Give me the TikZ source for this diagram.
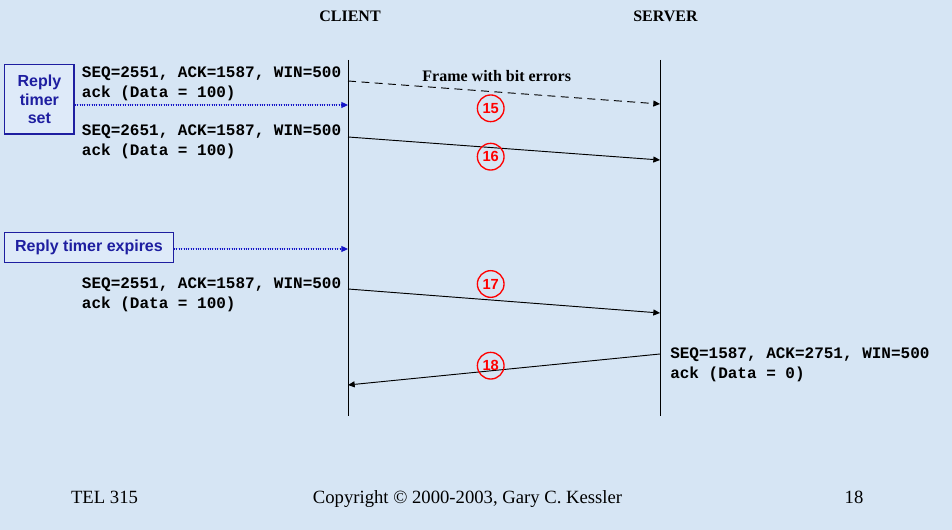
\documentclass[tikz,border=0pt]{standalone}
\usepackage{fontspec}
\setmainfont{Liberation Serif}
\setsansfont{Liberation Sans}
\setmonofont{Liberation Mono}
\usetikzlibrary{arrows.meta}
\definecolor{slidebg}{RGB}{214,229,244}
\definecolor{boxfill}{RGB}{222,234,249}
\definecolor{timerblue}{RGB}{30,30,160}
\definecolor{dotblue}{RGB}{20,20,200}

\begin{document}
\begin{tikzpicture}[
        x=0.75pt, y=-0.75pt,
        lifeline/.style={draw=black, line width=0.7pt},
        msg/.style={-{Triangle[length=5pt,width=4.5pt]}, line width=0.7pt},
        lost/.style={msg, dash pattern=on 6pt off 4pt},
        timer/.style={-{Triangle[length=5pt,width=4.5pt]}, draw=dotblue, fill=dotblue,
                      line width=0.8pt, densely dotted},
        timerbox/.style={rectangle, draw=timerblue, fill=boxfill, line width=1pt,
                   text=timerblue, align=center, inner sep=0pt,
                   font=\fontsize{12}{14}\selectfont\sffamily\bfseries},
        seg/.style={anchor=north west, inner sep=0pt, align=left,
                   font=\fontsize{12}{14.8}\selectfont\ttfamily\bfseries},
        stepnum/.style={circle, draw=red, line width=1pt, text=red, minimum size=20pt,
                   inner sep=0pt, font=\fontsize{11}{12}\selectfont\sffamily\bfseries},
        head/.style={font=\fontsize{12}{14}\selectfont\bfseries},
        foot/.style={font=\fontsize{14}{16}\selectfont, text height=10pt, text depth=3pt}
    ]
    
    \fill[slidebg] (0,0) rectangle (952,530);
    
    \node[head] (client) at (350,16) {CLIENT};
    \node[head] (server) at (665.5,16) {SERVER};
    
    \coordinate (clitop) at (348,60);
    \coordinate (clibot) at (348,416);
    \coordinate (srvtop) at (660,60);
    \coordinate (srvbot) at (660,416);
    \draw[lifeline] (clitop) -- (clibot);
    \draw[lifeline] (srvtop) -- (srvbot);
    
    % end points on the lifelines
    \coordinate (c15) at (348,81);
    \coordinate (s15) at (660,104);
    \coordinate (c16) at (348,137);
    \coordinate (s16) at (660,160);
    \coordinate (c17) at (348,289);
    \coordinate (s17) at (660,313);
    \coordinate (s18) at (660,354);
    \coordinate (c18) at (348,385);
    \coordinate (tset) at (348,105);
    \coordinate (texp) at (348,249);
    
    \node[timerbox, minimum width=52pt, minimum height=52pt] (setbox) at (39.4,99.5) {Reply\\timer\\set};
    \node[timerbox, minimum width=126.5pt, minimum height=22.8pt] (expbox) at (89,247.5) {Reply timer expires};
    
    \node[seg] (seq1) at (81.7,67) {SEQ=2551, ACK=1587, WIN=500\\ack (Data = 100)};
    \node[seg] (seq2) at (81.7,125) {SEQ=2651, ACK=1587, WIN=500\\ack (Data = 100)};
    \node[seg] (seq3) at (81.7,278) {SEQ=2551, ACK=1587, WIN=500\\ack (Data = 100)};
    \node[seg] (seq4) at (670,348) {SEQ=1587, ACK=2751, WIN=500\\ack (Data = 0)};
    
    \node[head] (errlbl) at (496.7,75.7) {Frame with bit errors};
    
    \draw[timer] (setbox.east |- tset) -- (tset);
    \draw[timer] (expbox.east |- texp) -- (texp);
    
    \draw[lost] (c15) -- (s15);
    \draw[msg] (c16) -- (s16);
    \draw[msg] (c17) -- (s17);
    \draw[msg] (s18) -- (c18);
    
    \node[stepnum] (n15) at (490.7,108.3) {15};
    \node[stepnum] (n16) at (490.7,156.7) {16};
    \node[stepnum] (n17) at (490.7,284) {17};
    \node[stepnum] (n18) at (490.7,365.7) {18};
    
    \node[foot] (course) at (104.5,499) {TEL 315};
    \node[foot] (copy) at (467.5,499) {Copyright \textcopyright{} 2000-2003, Gary C. Kessler};
    \node[foot] (page) at (854,499) {18};
    
\end{tikzpicture}
\end{document}
